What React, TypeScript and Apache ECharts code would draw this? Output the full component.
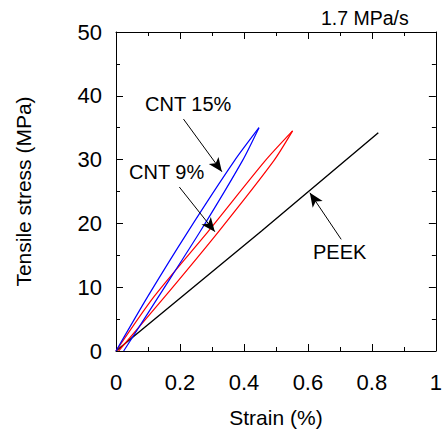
import React, { useEffect, useRef } from "react";
import * as echarts from "echarts";

// Strain (%) / stress (MPa) readings
const cnt15LoadStrain = [0, 0.1, 0.226, 0.37, 0.447];
const cnt15LoadStress = [0, 8.6, 18.8, 29.8, 35.0];
const cnt15UnloadStrain = [0.447, 0.395, 0.264, 0.134, 0.024];
const cnt15UnloadStress = [35.0, 29.8, 18.8, 8.6, 0];
const cnt9LoadStrain = [0, 0.12, 0.289, 0.466, 0.552];
const cnt9LoadStress = [0, 8.6, 18.8, 29.8, 34.5];
const cnt9UnloadStrain = [0.552, 0.493, 0.322, 0.154, 0.008];
const cnt9UnloadStress = [34.5, 29.8, 18.8, 8.6, 0];
const peekStrain = [0, 0.455, 0.82];
const peekStress = [0, 18.8, 34.2];

const xTicks = [0, 0.2, 0.4, 0.6, 0.8, 1];
const yTicks = [0, 10, 20, 30, 40, 50];

// Arrow annotations: [tailStrain, tailStress, tipStrain, tipStress]
const arrowCNT15 = [0.211, 36.35, 0.331, 28.1];
const arrowCNT9 = [0.198, 25.7, 0.309, 18.7];
const arrowPEEK = [0.704, 17.5, 0.606, 24.8];

const FONT = "'Liberation Sans', Arial, sans-serif";

const pairs = (xs: number[], ys: number[]) => xs.map((x, i) => [x, ys[i]]);

const arrow = (a: number[]) => [
  { coord: [a[0], a[1]], symbol: "none" },
  { coord: [a[2], a[3]], symbol: "arrow", symbolSize: [9, 14] },
];

const curve = (name: string, xs: number[], ys: number[], color: string) => ({
  type: "line",
  name,
  data: pairs(xs, ys),
  showSymbol: false,
  smooth: 0.25,
  lineStyle: { color, width: 1.2 },
  silent: true,
});

export default function App() {
  const ref = useRef<HTMLDivElement>(null);
  useEffect(() => {
    if (!ref.current) return;
    const chart = echarts.init(ref.current, null, { renderer: "svg" });
    const axisCommon = {
      axisLine: { show: true, onZero: false, lineStyle: { color: "#000", width: 1 } },
      axisTick: { show: true, inside: true, length: 7, lineStyle: { color: "#000", width: 1 } },
      minorTick: { show: true, splitNumber: 2, length: 4, lineStyle: { color: "#000", width: 1 } },
      splitLine: { show: false },
    };
    chart.setOption({
      animation: false,
      backgroundColor: "#fff",
      textStyle: { fontFamily: FONT },
      grid: { left: 116, right: 5, top: 32, bottom: 84 },
      xAxis: [
        {
          type: "value",
          min: xTicks[0],
          max: xTicks[xTicks.length - 1],
          interval: 0.2,
          position: "bottom",
          ...axisCommon,
          axisLabel: {
            color: "#000",
            fontSize: 22,
            fontFamily: FONT,
            margin: 20,
            formatter: (v: number) => String(Math.round(v * 10) / 10),
          },
          name: "Strain (%)",
          nameLocation: "middle",
          nameGap: 56,
          nameTextStyle: { color: "#000", fontSize: 21, fontFamily: FONT },
        },
        {
          type: "value",
          min: xTicks[0],
          max: xTicks[xTicks.length - 1],
          interval: 0.2,
          position: "top",
          ...axisCommon,
          axisLabel: { show: false },
        },
      ],
      yAxis: [
        {
          type: "value",
          min: yTicks[0],
          max: yTicks[yTicks.length - 1],
          interval: 10,
          position: "left",
          ...axisCommon,
          axisLabel: { color: "#000", fontSize: 22, fontFamily: FONT, margin: 14 },
          name: "Tensile stress (MPa)",
          nameLocation: "middle",
          nameGap: 82,
          nameTextStyle: { color: "#000", fontSize: 21, fontFamily: FONT },
        },
        {
          type: "value",
          min: yTicks[0],
          max: yTicks[yTicks.length - 1],
          interval: 10,
          position: "right",
          ...axisCommon,
          axisLabel: { show: false },
        },
      ],
      series: [
        {
          type: "line",
          name: "PEEK",
          data: pairs(peekStrain, peekStress),
          showSymbol: false,
          lineStyle: { color: "#000", width: 1.4 },
          silent: true,
          markLine: {
            silent: true,
            symbol: ["none", "arrow"],
            label: { show: false },
            lineStyle: { color: "#000", width: 1, type: "solid" },
            itemStyle: { color: "#000" },
            emphasis: { disabled: true },
            data: [arrow(arrowCNT15), arrow(arrowCNT9), arrow(arrowPEEK)],
          },
        },
        curve("CNT 9% loading", cnt9LoadStrain, cnt9LoadStress, "#ff0000"),
        curve("CNT 9% unloading", cnt9UnloadStrain, cnt9UnloadStress, "#ff0000"),
        curve("CNT 15% loading", cnt15LoadStrain, cnt15LoadStress, "#0000ff"),
        curve("CNT 15% unloading", cnt15UnloadStrain, cnt15UnloadStress, "#0000ff"),
      ],
      graphic: [
        {
          type: "text",
          left: 321,
          top: 8,
          style: { text: "1.7 MPa/s", fill: "#000", fontSize: 19.5, fontFamily: FONT },
        },
        {
          type: "text",
          left: 145,
          top: 94,
          style: { text: "CNT 15%", fill: "#000", fontSize: 20, fontFamily: FONT },
        },
        {
          type: "text",
          left: 129,
          top: 162,
          style: { text: "CNT 9%", fill: "#000", fontSize: 20, fontFamily: FONT },
        },
        {
          type: "text",
          left: 313,
          top: 242,
          style: { text: "PEEK", fill: "#000", fontSize: 20, fontFamily: FONT },
        },
      ],
    });
    return () => chart.dispose();
  }, []);
  return (
    <div
      ref={ref}
      style={{ position: "fixed", left: 0, top: 0, width: 445, height: 435, background: "#fff" }}
    />
  );
}
